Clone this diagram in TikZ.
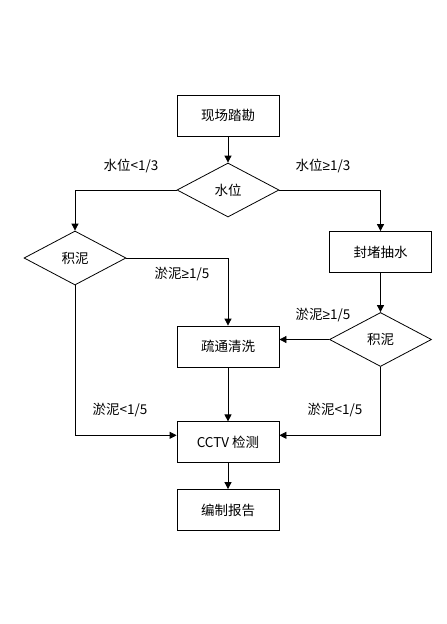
\documentclass[tikz,border=0pt]{standalone}
\usepackage{fontspec}
\setmainfont{Noto Sans CJK SC}
\newfontfamily\symfont{Liberation Sans}
\newcommand{\gesym}{{\symfont ≥}}
\usetikzlibrary{shapes.geometric, arrows.meta}

\begin{document}
\begin{tikzpicture}[x=1pt, y=1pt,
    box/.style={draw, line width=0.8pt, minimum width=102pt, minimum height=41pt, inner sep=0pt},
    decision/.style={draw, diamond, line width=0.8pt, aspect=1.88, minimum width=102pt, minimum height=54pt, inner sep=0pt},
    arrow/.style={line width=0.8pt, -{Triangle[length=7pt, width=7pt]}},
    lbl/.style={inner sep=0pt},
    font=\fontsize{13.5}{16}\selectfont]
    \useasboundingbox (0, 0) rectangle (447, -624);

    % nodes
    \node[box] (survey) at (228, -115.5) {现场踏勘};
    \node[decision] (water) at (228, -190) {水位};
    \node[decision] (mudL) at (75, -258) {积泥};
    \node[box] (pump) at (380.5, -252) {封堵抽水};
    \node[box] (clean) at (228, -346.5) {疏通清洗};
    \node[decision] (mudR) at (380.5, -339.5) {积泥};
    \node[box] (cctv) at (228, -442.3) {CCTV 检测};
    \node[box] (report) at (228, -510) {编制报告};

    % labels
    \node[lbl] (lowW) at (131, -166) {水位<1/3};
    \node[lbl] (highW) at (323, -166) {水位\gesym1/3};
    \node[lbl] (highML) at (182, -274) {淤泥\gesym1/5};
    \node[lbl] (highMR) at (323, -315) {淤泥\gesym1/5};
    \node[lbl] (lowML) at (120, -410) {淤泥<1/5};
    \node[lbl] (lowMR) at (335, -410) {淤泥<1/5};

    % connectors
    \draw[arrow] (survey) -- (water);
    \draw[arrow] (water.west) -| (mudL.north);
    \draw[arrow] (water.east) -| (pump.north);
    \draw[arrow] (mudL.east) -| (clean.north);
    \draw[arrow] (pump) -- (mudR);
    \draw[arrow] (mudR.west) -- (clean.east |- mudR.west);
    \draw[arrow] (clean) -- (cctv);
    \draw[arrow] (mudL.south) |- ([yshift=7pt]cctv.west);
    \draw[arrow] (mudR.south) |- ([yshift=7pt]cctv.east);
    \draw[arrow] (cctv) -- (report);
\end{tikzpicture}
\end{document}
